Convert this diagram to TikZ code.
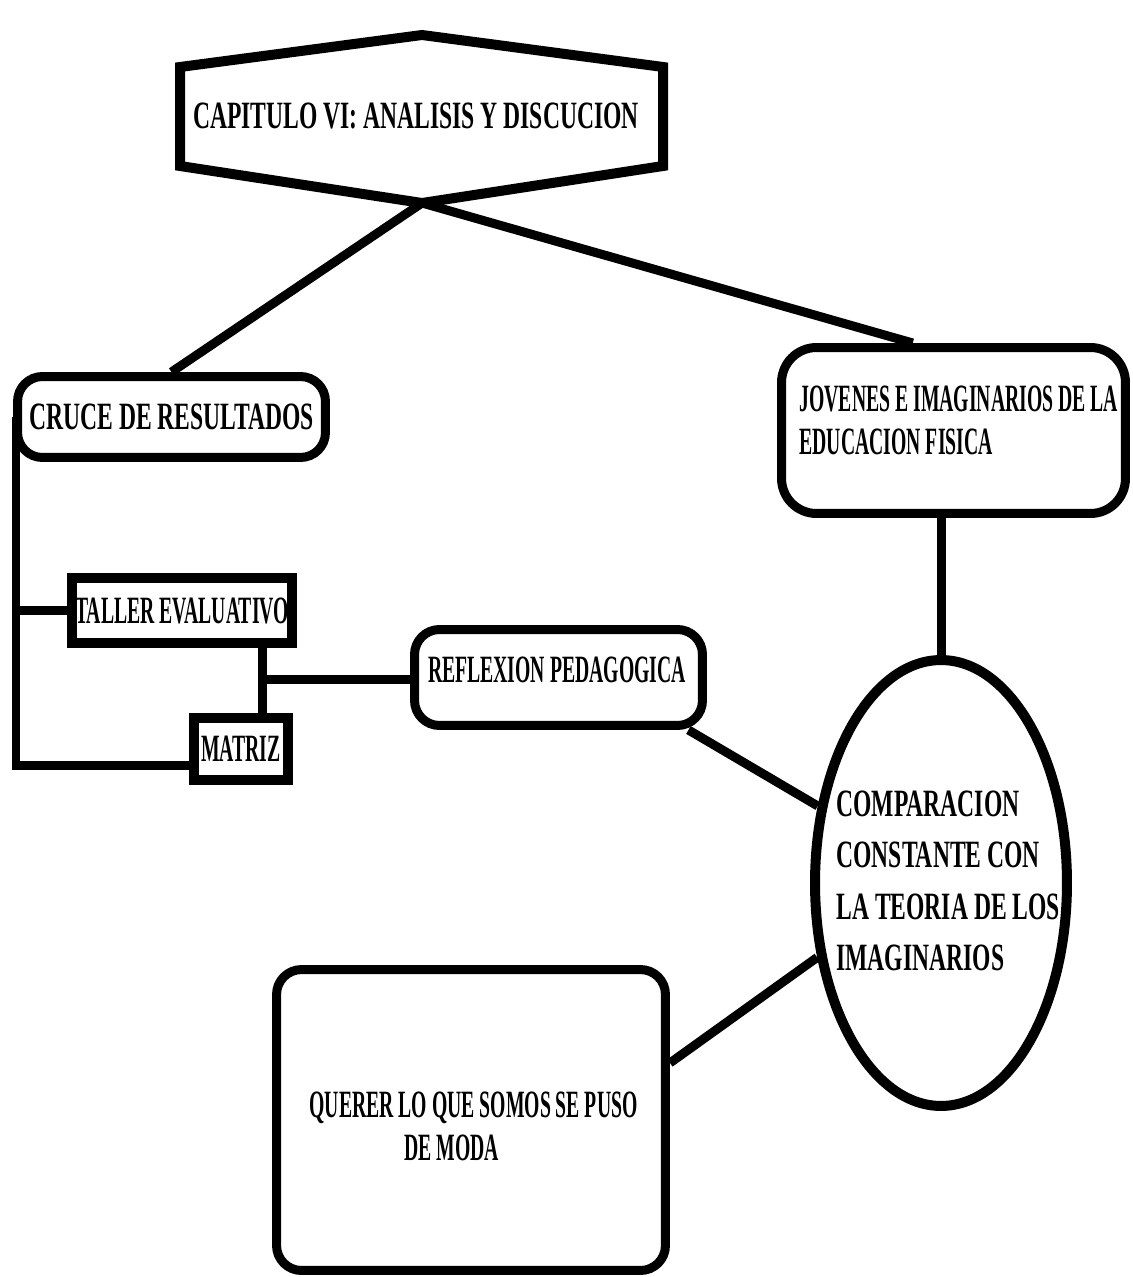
\documentclass[tikz,border=0pt]{standalone}
\usepackage{fontspec}
\newfontfamily\cond{Liberation Serif}[FakeStretch=0.61]
\newfontfamily\condn{Liberation Serif}[FakeStretch=0.51]
\usetikzlibrary{shapes.geometric}

\begin{document}
\begin{tikzpicture}[x=0.02cm, y=-0.02cm, line width=0.18cm,
  txt/.style={font=\cond\bfseries\fontsize{22}{24.4}\selectfont, inner sep=0},
  ntxt/.style={font=\condn\bfseries\fontsize{22}{24.4}\selectfont, inner sep=0},
  rbox/.style={draw, rounded corners=0.5cm, inner sep=0},
  sbox/.style={draw, line width=0.2cm, inner sep=0}]
  \useasboundingbox (0,0) rectangle (1132,1277);

  \node[txt] (cap) at (416,116) {CAPITULO VI: ANALISIS Y DISCUCION};
  \draw[line width=0.2cm] (180,67) -- (422,35) -- (663,67) -- (663,166) -- (422,203) -- (180,166) -- cycle;
  \coordinate (capbot) at (422,203);

  \node[rbox, txt, draw, minimum width=6.16cm, minimum height=1.62cm] (cruce) at (171.5,417) {CRUCE DE RESULTADOS};
  \node[rbox, minimum width=6.88cm, minimum height=3.32cm, rounded corners=0.7cm] (jov) at (953.5,430.5) {};
  \node[ntxt, anchor=west, align=left] (jovtxt) at (795,420) {JOVENES E IMAGINARIOS DE LA\\EDUCACION FISICA};

  \node[sbox, ntxt, draw, minimum width=4.42cm, minimum height=1.3cm] (taller) at (182,610.5) {TALLER EVALUATIVO};
  \node[sbox, ntxt, draw, minimum width=1.9cm, minimum height=1.24cm] (matriz) at (241,748.5) {MATRIZ};
  \node[rbox, minimum width=5.76cm, minimum height=1.92cm] (reflex) at (558.5,677.5) {};
  \node[ntxt] (reflextxt) at (557,669.5) {REFLEXION PEDAGOGICA};

  \node[draw, ellipse, line width=0.2cm, minimum width=5.04cm, minimum height=8.92cm, inner sep=0] (comp) at (941,883) {};
  \node[txt, anchor=west, align=left, font=\cond\bfseries\fontsize{22}{29.3}\selectfont] (comptxt) at (832,881) {COMPARACION\\CONSTANTE CON\\LA TEORIA DE LOS\\IMAGINARIOS};

  \node[rbox, minimum width=7.78cm, minimum height=6.02cm] (quer) at (471,1120) {};
  \node[ntxt, anchor=west, align=left] (quertxt) at (305,1126) {QUERER LO QUE SOMOS SE PUSO\\\hspace*{1.9cm}DE MODA};

  \draw (capbot) -- (cruce.north);
  \draw (capbot) -- (jov.115);
  \draw (comp.north |- jov.south) -- (comp.north);

  \coordinate (lb) at (16,765);
  \draw (lb |- cruce.west) -- (lb) -- (lb -| matriz.west);
  \draw (lb |- taller.west) -- (taller.west);
  \coordinate (tm) at (262,679);
  \draw (tm |- taller.south) -- (tm |- matriz.north);
  \draw (tm) -- (tm -| reflex.west);

  \draw (reflex.-22) -- (comp.148);
  \draw (quer.16) -- (comp.211);
\end{tikzpicture}
\end{document}
